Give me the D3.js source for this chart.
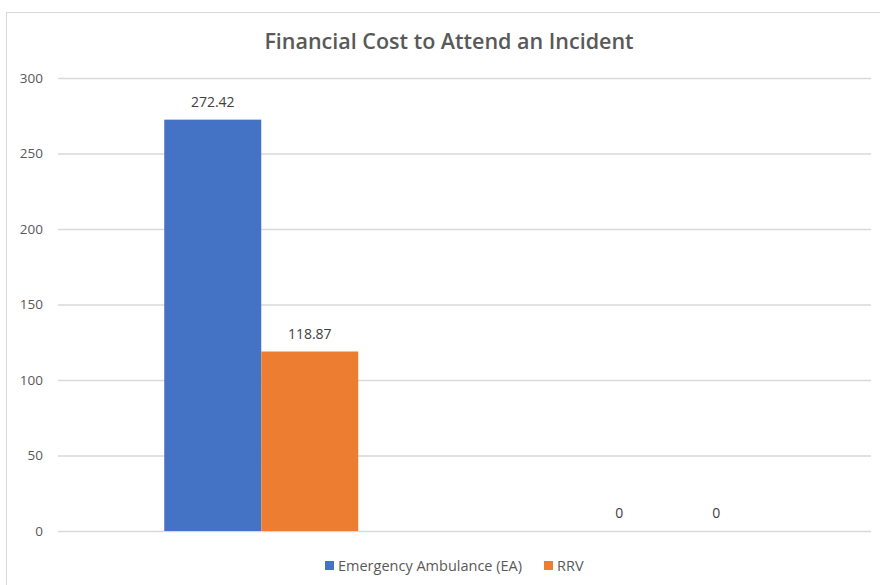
<!DOCTYPE html>
<html>
<head>
<meta charset="utf-8">
<script src="https://cdn.jsdelivr.net/npm/d3@7"></script>
<style>
  body { margin: 0; background: #fff; }
  svg { display: block; font-family: "Open Sans", "Liberation Sans", sans-serif; }
</style>
</head>
<body>
<svg></svg>
<script>
// chart data
const categories = ['Group 1', 'Group 2']
const seriesNames = ['Emergency Ambulance (EA)', 'RRV']
const eaValues = [272.42, 0]
const rrvValues = [118.87, 0]
const yTicks = [0, 50, 100, 150, 200, 250, 300]
const colors = ['#4472c4', '#ed7d31']

const svgWidth = 880, svgHeight = 585
const margin = { top: 78, right: 9, bottom: 54, left: 58 }
const width = svgWidth - margin.left - margin.right
const height = svgHeight - margin.top - margin.bottom

const svg = d3.select('svg')
    .attr('width', svgWidth)
    .attr('height', svgHeight)

// chart frame
svg.append('rect')
    .attr('x', 6.5).attr('y', 12.5)
    .attr('width', 900).attr('height', 600)
    .attr('fill', 'none')
    .attr('stroke', '#d9d9d9')

svg.append('text')
    .attr('x', 449).attr('y', 49)
    .attr('text-anchor', 'middle')
    .attr('font-size', 21.5)
    .attr('font-weight', 600)
    .attr('fill', '#595959')
    .text('Financial Cost to Attend an Incident')

const g = svg.append('g')
    .attr('transform', 'translate(' + margin.left + ',' + margin.top + ')')

const x0 = d3.scaleBand().domain(categories).range([0, width])
const x1 = d3.scaleBand().domain(seriesNames)
    .range([x0.bandwidth() / 2 - 97, x0.bandwidth() / 2 + 97])
const y = d3.scaleLinear().domain([0, 300]).range([height, 0])

// gridlines
g.append('g')
    .selectAll('line')
    .data(yTicks)
    .join('line')
    .attr('x1', 0).attr('x2', width)
    .attr('y1', d => y(d) + 0.5).attr('y2', d => y(d) + 0.5)
    .attr('stroke', '#d9d9d9')
    .attr('stroke-width', 1.3)

// y axis labels
const yAxis = g.append('g')
    .call(d3.axisLeft(y).tickValues(yTicks).tickSize(0).tickPadding(15))
yAxis.select('.domain').remove()
yAxis.selectAll('text')
    .attr('font-family', '"Open Sans", sans-serif')
    .attr('font-size', 13.5)
    .attr('fill', '#595959')

const data = categories.map((c, i) => ({
    cat: c,
    vals: [
        { name: seriesNames[0], value: eaValues[i], color: colors[0] },
        { name: seriesNames[1], value: rrvValues[i], color: colors[1] }
    ]
}))

const groups = g.selectAll('.grp')
    .data(data)
    .join('g')
    .attr('class', 'grp')
    .attr('transform', d => 'translate(' + x0(d.cat) + ',0)')

groups.selectAll('rect')
    .data(d => d.vals)
    .join('rect')
    .attr('x', d => x1(d.name))
    .attr('y', d => y(d.value))
    .attr('width', x1.bandwidth())
    .attr('height', d => height - y(d.value))
    .attr('fill', d => d.color)

groups.selectAll('text')
    .data(d => d.vals)
    .join('text')
    .attr('x', d => x1(d.name) + x1.bandwidth() / 2)
    .attr('y', d => y(d.value) - 13)
    .attr('text-anchor', 'middle')
    .attr('font-size', 14)
    .attr('fill', '#404040')
    .text(d => d.value)

// legend
const legend = svg.append('g').attr('transform', 'translate(0,566)')
const legendX = [325, 544]
seriesNames.forEach((name, i) => {
    legend.append('rect')
        .attr('x', legendX[i]).attr('y', -5)
        .attr('width', 9).attr('height', 9)
        .attr('fill', colors[i])
    legend.append('text')
        .attr('x', legendX[i] + 13).attr('y', 0)
        .attr('dy', '0.35em')
        .attr('font-size', 14.5)
        .attr('fill', '#595959')
        .text(name)
})
</script>
</body>
</html>
